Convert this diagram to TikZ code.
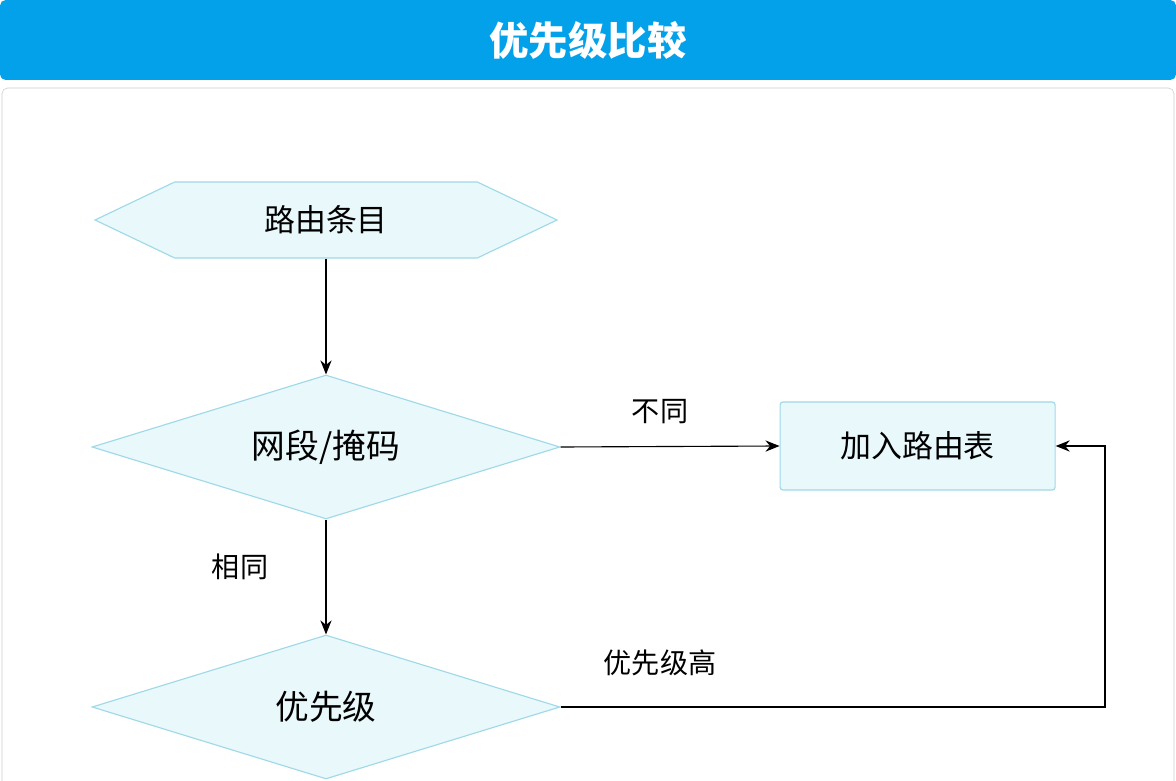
\documentclass[tikz,border=0pt]{standalone}
\usepackage{fontspec}
\setmainfont{Noto Sans CJK SC}
\usepackage{tikz}
\usetikzlibrary{shapes.geometric, shapes.symbols, arrows.meta, positioning, calc}
\definecolor{titleblue}{HTML}{03A1E9}
\definecolor{shapefill}{HTML}{E8F8FB}
\definecolor{shapeline}{HTML}{9FD9E8}

\begin{document}
\begin{tikzpicture}[
    hexa/.style={signal, signal to=west and east, signal pointer angle=51, draw=shapeline, fill=shapefill, thick, minimum width=11.55cm, minimum height=1.9cm, inner sep=0pt, font=\fontsize{22}{26}\selectfont},
    decide/.style={diamond, aspect=3.27, draw=shapeline, fill=shapefill, thick, minimum width=11.7cm, minimum height=3.6cm, inner sep=0pt, font=\fontsize{24}{28}\selectfont},
    box/.style={draw=shapeline, fill=shapefill, thick, rounded corners=2pt, minimum width=6.875cm, minimum height=2.2cm, font=\fontsize{22}{26}\selectfont},
    lbl/.style={font=\fontsize{20}{24}\selectfont},
    arrow/.style={-{Stealth[length=10pt,width=8pt]}, thick}
]
    \useasboundingbox (0,0) rectangle (29.4,19.5);
    \clip (0,0) rectangle (29.4,19.5);
    % title and panel
    \fill[titleblue, rounded corners=4pt] (0,17.5) rectangle (29.4,19.5);
    \node[text=white, font=\fontsize{28}{32}\selectfont\bfseries] (title) at (14.7,18.5) {优先级比较};
    \draw[gray!40, rounded corners=4pt] (0.05,-1) rectangle (29.35,17.3);

    \node[hexa] (entry) at (8.15,14.0) {路由条目};
    \node[decide] (mask) at (8.15,8.325) {网段/掩码};
    \node[decide] (prio) at (8.15,1.825) {优先级};
    \node[box] (table) at (22.94,8.35) {加入路由表};

    \draw[arrow] (entry.south) -- (mask.north);
    \draw[arrow] (mask.east) -- (table.west);
    \draw[arrow] (mask.south) -- (prio.north);
    \draw[arrow] (prio.east) -| (27.625,8.35) -- (table.east);

    \node[lbl] (diff) at (16.5,9.2) {不同};
    \node[lbl] (same) at (6.0,5.33) {相同};
    \node[lbl] (higher) at (16.5,2.93) {优先级高};
\end{tikzpicture}
\end{document}
